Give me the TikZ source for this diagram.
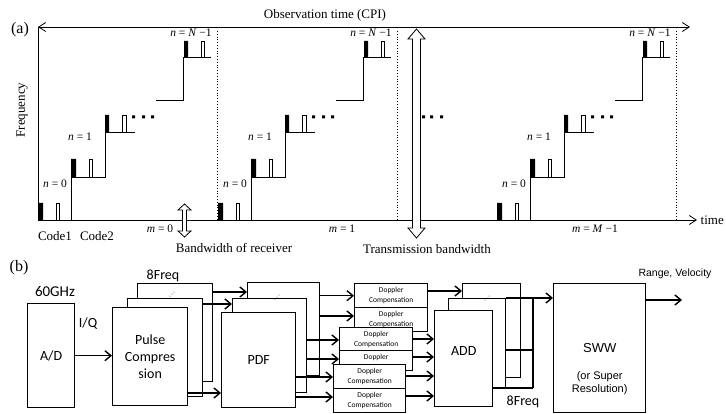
\documentclass[tikz,border=0pt]{standalone}
\usepackage{fontspec}
\setmainfont{Liberation Serif}
\newfontfamily\calfont{Carlito}
\newfontfamily\arialfont{Liberation Sans}
\newfontfamily\symfont{DejaVu Sans}
\usetikzlibrary{arrows.meta}

\tikzset{every picture/.style={line width=0.8pt}}
\tikzset{
  lbl/.style={font=\fontsize{13}{15}\selectfont},
  part/.style={font=\fontsize{16}{18}\selectfont},
  idx/.style={font=\fontsize{11.5}{13}\selectfont, inner sep=1pt},
  axis/.style={-{Straight Barb[length=7pt,width=9pt]}},
  blk/.style={draw, line width=1.4pt, fill=white, inner sep=0pt, anchor=north west,
    align=center, font=\calfont\fontsize{14}{17}\selectfont},
  dopfont/.style={font=\calfont\fontsize{7.5}{10}\selectfont},
  dop/.style={blk, dopfont},
  arr/.style={line width=1.4pt, -{Straight Barb[length=6pt,width=10pt]}},
  bus/.style={line width=1.4pt},
  cal/.style={font=\calfont\fontsize{14}{17}\selectfont},
  ell/.style={font=\symfont\fontsize{6}{6}\selectfont, inner sep=0pt},
}

\begin{document}
\begin{tikzpicture}[x=1pt,y=-1pt]
    \useasboundingbox (0,0) rectangle (726,414);

    % (a) frequency hopping over the CPI
    \node[part] (pa) at (20,30) {(a)};
    \coordinate (top) at (38,27);
    \coordinate (org) at (38,220);
    \coordinate (obsend) at (690,27);
    \coordinate (tend) at (697,220);
    \draw[{Straight Barb[length=7pt,width=9pt]}-{Straight Barb[length=7pt,width=9pt]}] (top) -- (obsend);
    \draw (top) -- (org);
    \draw[axis] (org) -- (tend);
    \node[lbl] (obs) at (325,15) {Observation time (CPI)};
    \node[lbl, rotate=90] (freq) at (22,110) {Frequency};
    \node[lbl, anchor=west] (time) at (tend) {time};

    \foreach \gx in {0,180,459}{
    \begin{scope}[xshift=\gx pt]
        \fill (38,203) rectangle (43,220) (71,159) rectangle (76,177)
              (105,115) rectangle (109,132) (184,41) rectangle (188,57);
        \draw[fill=white, line width=0.7pt] (56,203) rectangle (59,220) (89,159) rectangle (92,177)
              (122,115) rectangle (126,132) (201,41) rectangle (204,57);
        \draw (46,220) -- (71,220) -- (71,177) -- (105,177) -- (105,132) -- (135,132);
        \draw (156,100) -- (183,100) -- (183,57) -- (211,57);
        \fill (132,115.5) rectangle +(3,3) (142,115.5) rectangle +(3,3) (151,115.5) rectangle +(3,3);
        \node[idx] (nz-\gx) at (55,184) {\textit{n} = 0};
        \node[idx] (no-\gx) at (80,137) {\textit{n} = 1};
        \node[idx] (nl-\gx) at (191,33) {\textit{n} = \textit{N} −1};
        \draw[dotted] (217,31) -- (217,220);
    \end{scope}
    }
    \fill (422,115.5) rectangle +(3,3) (430,115.5) rectangle +(3,3) (440,115.5) rectangle +(3,3);

    % receiver / transmission bandwidth
    \draw[fill=white] (184.5,204) -- (191,210) -- (186.5,210) -- (186.5,231) -- (191,231) -- (184.5,237)
        -- (178,231) -- (182.5,231) -- (182.5,210) -- (178,210) -- cycle;
    \draw[fill=white] (416.5,29) -- (425,39) -- (420.5,39) -- (420.5,228) -- (425,228) -- (416.5,238)
        -- (408,228) -- (412.5,228) -- (412.5,39) -- (408,39) -- cycle;

    \node[idx] (m0) at (160,229) {\textit{m} = 0};
    \node[idx] (m1) at (342,229) {\textit{m} = 1};
    \node[idx] (mM) at (595,229) {\textit{m} = \textit{M} −1};
    \node[lbl] (c1) at (55,236) {Code1};
    \node[lbl] (c2) at (97,236) {Code2};
    \node[lbl] (bwr) at (234,248) {Bandwidth of receiver};
    \node[lbl] (bwt) at (427,249) {Transmission bandwidth};

    % (b) signal processing chain
    \node[part] (pb) at (19,268) {(b)};
    \node[blk, minimum width=47pt, minimum height=104pt] (ad) at (27,303) {A/D};
    \node[cal, font=\calfont\fontsize{15}{17}\selectfont] (ghz) at (55,291) {60GHz};
    \node[cal] (iq) at (88,324) {I/Q};

    \node[blk, minimum width=75pt, minimum height=98pt] (pcC) at (137,283) {};
    \node[blk, minimum width=75pt, minimum height=98pt] (pcB) at (127,298) {};
    \node[blk, minimum width=75pt, minimum height=98pt] (pcA) at (112,307) {Pulse\\Compres\\sion};
    \node[ell] (dp1) at (172,295) {⋰};
    \node[cal] (fq1) at (163,276) {8Freq};

    \node[blk, minimum width=72pt, minimum height=93pt] (pdfC) at (247,282) {};
    \node[blk, minimum width=74pt, minimum height=94pt] (pdfB) at (232,298) {};
    \node[blk, minimum width=74pt, minimum height=95pt] (pdfA) at (221,312) {PDF};
    \node[ell] (dp2) at (277,298) {⋰};

    \node[dop, minimum width=73pt, minimum height=24pt] (dA) at (354,283) {Doppler\\Compensation};
    \node[dop, minimum width=73pt, minimum height=24pt] (dB) at (354,307) {Doppler\\Compensation};
    \node[dop, minimum width=73pt, minimum height=23pt] (dC) at (339,327) {Doppler\\Compensation};
    \node[dop, minimum width=73pt, minimum height=20pt,
          label={[dopfont, yshift=3pt]center:Doppler}] (dD) at (339,350) {};
    \node[dop, minimum width=72pt, minimum height=24pt] (dE) at (333,364) {Doppler\\Compensation};
    \node[dop, minimum width=72pt, minimum height=24pt] (dF) at (333,388) {Doppler\\Compensation};

    \node[blk, minimum width=58pt, minimum height=94pt] (addC) at (462,283) {};
    \node[blk, minimum width=57pt, minimum height=90pt] (addB) at (448,298) {};
    \node[blk, minimum width=58pt, minimum height=96pt,
          label={[cal, yshift=8pt]center:ADD}] (addA) at (434,310) {};
    \node[ell] (dp3) at (487,299) {⋰};
    \node[cal] (fq2) at (523,402) {8Freq};

    \node[blk, font=\arialfont\fontsize{13}{15}\selectfont, minimum width=92pt, minimum height=129pt,
          label={[font=\arialfont\fontsize{11}{13}\selectfont, align=center, yshift=-35pt]center:(or Super\\Resolution)}]
          (sww) at (553,283) {SWW};
    \node[font=\arialfont\fontsize{10.5}{12}\selectfont] (rvl) at (675,274) {Range, Velocity};

    % connections
    \draw[arr] (ad) -- (ad -| pcA.west);
    \draw[arr] (pcC.east |- 0,292) -- (pdfC.west |- 0,292);
    \draw[arr] (pcB.east |- 0,304) -- (pdfB.west |- 0,304);
    \draw[arr] (pcA.east |- 0,393) -- (pdfA.west |- 0,393);

    \draw[arr] (pdfC.east |- dA) -- (dA);
    \draw[arr] (pdfC.east |- 0,316) -- (dB.west |- 0,316);
    \draw[arr] (pdfB.east |- 0,340) -- (dC.west |- 0,340);
    \draw[arr] (pdfB.east |- 0,359) -- (dD.west |- 0,359);
    \draw[arr] (pdfA.east |- 0,377) -- (dE.west |- 0,377);
    \draw[arr] (pdfA.east |- 0,397) -- (dF.west |- 0,397);

    \draw[arr] (dA.east |- 0,291) -- (addC.west |- 0,291);
    \draw[arr] (dC.east |- 0,339) -- (addA.west |- 0,339);
    \draw[arr] (dD.east |- 0,357) -- (addA.west |- 0,357);
    \draw[arr] (dE.east |- 0,376) -- (addA.west |- 0,376);
    \draw[arr] (dF.east |- 0,396) -- (addA.west |- 0,396);

    \coordinate (busT) at (533,298);
    \coordinate (busB) at (533,388);
    \coordinate (rv) at (682,300);
    \draw[bus] (busT) -- (busB);
    \draw[bus] (addB.east |- 0,350) -- (busB |- 0,350);
    \draw[bus] (addA.east |- busB) -- (busB);
    \draw[arr] (addB.north east) -- (addB.north east -| sww.west);
    \draw[arr] (sww.east |- rv) -- (rv);
\end{tikzpicture}
\end{document}
